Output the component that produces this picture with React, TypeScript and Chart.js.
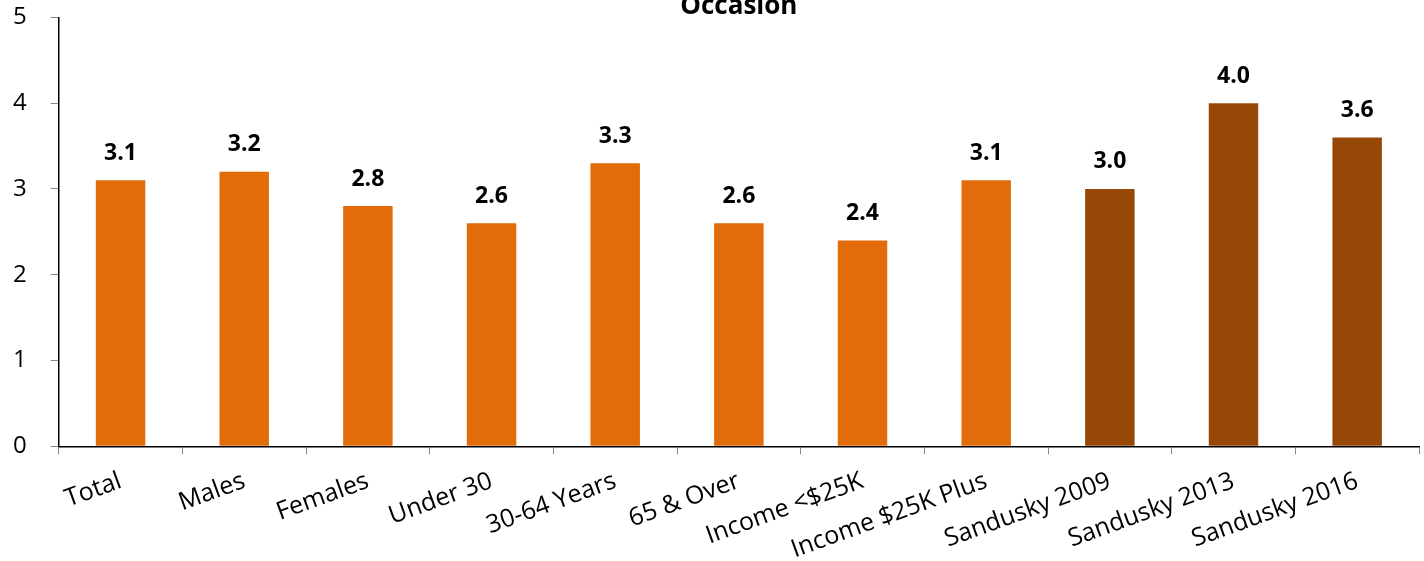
import React, { useEffect, useRef } from "react";
import { Chart, registerables } from "chart.js";

Chart.register(...registerables);

const categories = [
  "Total",
  "Males",
  "Females",
  "Under 30",
  "30-64 Years",
  "65 & Over",
  "Income <$25K",
  "Income $25K Plus",
  "Sandusky 2009",
  "Sandusky 2013",
  "Sandusky 2016",
];
const values = [3.1, 3.2, 2.8, 2.6, 3.3, 2.6, 2.4, 3.1, 3.0, 4.0, 3.6];
const barColors = [
  "#E36C0A", "#E36C0A", "#E36C0A", "#E36C0A", "#E36C0A", "#E36C0A",
  "#E36C0A", "#E36C0A", "#974806", "#974806", "#974806",
];
const yTicks = [0, 1, 2, 3, 4, 5];
const titleText = "Occasion";

const FONT = "'Open Sans', 'Noto Sans', sans-serif";

const valueLabels = {
  id: "valueLabels",
  afterDatasetsDraw(chart: any) {
    const ctx = chart.ctx;
    const meta = chart.getDatasetMeta(0);
    ctx.save();
    ctx.font = `bold 23px ${FONT}`;
    ctx.fillStyle = "#000";
    ctx.textAlign = "center";
    ctx.textBaseline = "middle";
    meta.data.forEach((bar: any, i: number) => {
      ctx.fillText(values[i].toFixed(1), bar.x, bar.y - 27);
    });
    ctx.restore();
  },
};

const plotTitle = {
  id: "plotTitle",
  afterDraw(chart: any) {
    const ctx = chart.ctx;
    const area = chart.chartArea;
    ctx.save();
    ctx.font = `bold 26px ${FONT}`;
    ctx.fillStyle = "#000";
    ctx.textAlign = "center";
    ctx.textBaseline = "alphabetic";
    ctx.fillText(titleText, (area.left + area.right) / 2, area.top - 3);
    ctx.restore();
  },
};

export default function App() {
  const ref = useRef<HTMLCanvasElement | null>(null);
  useEffect(() => {
    if (!ref.current) return;
    const chart = new Chart(ref.current, {
      type: "bar",
      data: {
        labels: categories,
        datasets: [
          {
            data: values,
            backgroundColor: barColors,
            categoryPercentage: 1,
            barPercentage: 0.4,
          },
        ],
      },
      options: {
        animation: false,
        responsive: true,
        maintainAspectRatio: false,
        layout: { padding: { left: 0, right: 5, top: 0, bottom: 4 } },
        plugins: {
          legend: { display: false },
          tooltip: { enabled: false },
          title: { display: false },
        },
        scales: {
          x: {
            grid: {
              display: true,
              drawOnChartArea: false,
              drawTicks: true,
              tickLength: 8,
              color: "#888",
              offset: true,
            },
            border: { display: true, color: "#000", width: 1.5 },
            ticks: {
              color: "#000",
              font: { family: FONT, size: 25 },
              maxRotation: 20,
              minRotation: 20,
              autoSkip: false,
              padding: 12,
            },
          },
          y: {
            min: 0,
            max: 5,
            afterBuildTicks: (axis: any) => {
              axis.ticks = yTicks.map((v) => ({ value: v }));
            },
            grid: {
              display: true,
              drawOnChartArea: false,
              drawTicks: true,
              tickLength: 8,
              color: "#888",
            },
            border: { display: true, color: "#000", width: 1.5 },
            ticks: {
              color: "#000",
              font: { family: FONT, size: 24 },
              padding: 24,
            },
          },
        },
      },
      plugins: [valueLabels, plotTitle],
    });
    return () => chart.destroy();
  }, []);
  return (
    <div
      style={{
        position: "fixed",
        left: 0,
        top: 0,
        width: 1424,
        height: 561,
        overflow: "hidden",
        background: "#fff",
      }}
    >
      <div
        style={{
          position: "absolute",
          left: -11,
          top: -21,
          width: 1435,
          height: 602,
        }}
      >
        <canvas ref={ref} />
      </div>
    </div>
  );
}
